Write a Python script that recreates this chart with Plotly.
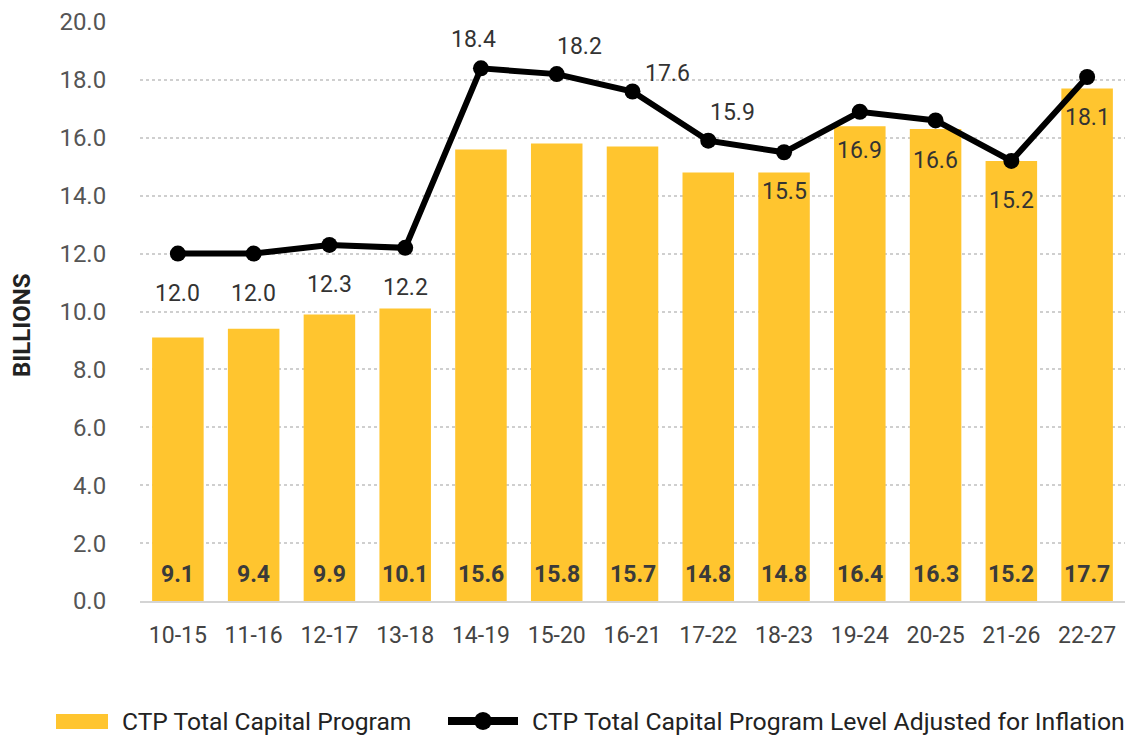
import plotly.graph_objects as go

categories = ["10-15", "11-16", "12-17", "13-18", "14-19", "15-20", "16-21",
              "17-22", "18-23", "19-24", "20-25", "21-26", "22-27"]
total_program = [9.1, 9.4, 9.9, 10.1, 15.6, 15.8, 15.7, 14.8, 14.8, 16.4, 16.3, 15.2, 17.7]
adjusted_inflation = [12.0, 12.0, 12.3, 12.2, 18.4, 18.2, 17.6, 15.9, 15.5, 16.9, 16.6, 15.2, 18.1]
bar_name = "CTP Total Capital Program"
line_name = "CTP Total Capital Program Level Adjusted for Inflation"

# label offsets (pixels) for the line value labels
label_dx = [0, 0, 0, 0, -7, 23, 35, 24, 0, 0, 0, 0, 0]
label_dy = [-40, -40, -40, -40, 29, 28, 18, 28, -39, -39, -40, -40, -40]

FONT = "Roboto"
BAR_COLOR = "#FFC52F"
W, H = 1133, 738
ML, MR, MT, MB = 140, 8, 22, 137
PW, PH = W - ML - MR, H - MT - MB


def px_x(p):
    return (p - ML) / PW


def px_y(p):
    return (H - MB - p) / PH


fig = go.Figure()
fig.add_trace(go.Bar(
    x=categories, y=total_program, name=bar_name,
    marker=dict(color=BAR_COLOR, line=dict(width=0)),
))
fig.add_trace(go.Scatter(
    x=categories, y=adjusted_inflation, mode="lines+markers",
    name=line_name,
    line=dict(color="#000000", width=6),
    marker=dict(color="#000000", size=16),
))

annotations = []
for c, v in zip(categories, total_program):
    annotations.append(dict(
        x=c, y=0, text=f"<b>{v:.1f}</b>", showarrow=False,
        yanchor="bottom", yshift=11,
        font=dict(family=FONT, size=23, color="#3a3a3a"),
    ))
for c, v, dx, dy in zip(categories, adjusted_inflation, label_dx, label_dy):
    annotations.append(dict(
        x=c, y=v, text=f"{v:.1f}", showarrow=False,
        xshift=dx, yshift=dy,
        font=dict(family=FONT, size=23, color="#333333"),
    ))

# y axis title
annotations.append(dict(
    xref="paper", yref="paper", x=px_x(22), y=px_y(325),
    text="<b>BILLIONS</b>", textangle=-90, showarrow=False,
    xanchor="center", yanchor="middle",
    font=dict(family=FONT, size=24, color="#222222"),
))

# manual legend
annotations.append(dict(
    xref="paper", yref="paper", x=px_x(120), y=px_y(721),
    text=bar_name, showarrow=False, xanchor="left", yanchor="middle",
    font=dict(family=FONT, size=24.6, color="#222222"),
))
annotations.append(dict(
    xref="paper", yref="paper", x=px_x(530), y=px_y(721),
    text=line_name, showarrow=False, xanchor="left", yanchor="middle",
    font=dict(family=FONT, size=24.8, color="#222222"),
))
shapes = [
    dict(type="rect", xref="paper", yref="paper",
         x0=px_x(56), x1=px_x(108), y0=px_y(729), y1=px_y(714),
         fillcolor=BAR_COLOR, line=dict(width=0)),
    dict(type="line", xref="paper", yref="paper",
         x0=px_x(448), x1=px_x(518), y0=px_y(721), y1=px_y(721),
         line=dict(color="#000000", width=8)),
    dict(type="circle", xref="paper", yref="paper",
         xsizemode="pixel", ysizemode="pixel",
         xanchor=px_x(483), yanchor=px_y(721),
         x0=-9, x1=9, y0=-9, y1=9,
         fillcolor="#000000", line=dict(width=0)),
]

fig.update_layout(
    width=W, height=H,
    margin=dict(l=ML, r=MR, t=MT, b=MB),
    paper_bgcolor="white", plot_bgcolor="white",
    bargap=0.32,
    font=dict(family=FONT, size=23, color="#444444"),
    showlegend=False,
    annotations=annotations,
    shapes=shapes,
)
fig.update_xaxes(
    type="category", showgrid=False, automargin=False,
    range=[-0.5, len(categories) - 0.5],
    showline=True, linecolor="#d4d4d4", linewidth=2,
    ticks="outside", ticklen=12, tickcolor="rgba(0,0,0,0)",
    tickfont=dict(family=FONT, size=23, color="#444444"),
)
fig.update_yaxes(
    range=[0, 20], dtick=2, tickformat=".1f", automargin=False,
    showgrid=True, gridcolor="#cfcfcf", gridwidth=1.5, griddash="dot",
    zeroline=False, showline=False,
    ticks="outside", ticklen=28, tickcolor="rgba(0,0,0,0)",
    tickfont=dict(family=FONT, size=24, color="#555555"),
)

fig.write_html("out.html")
